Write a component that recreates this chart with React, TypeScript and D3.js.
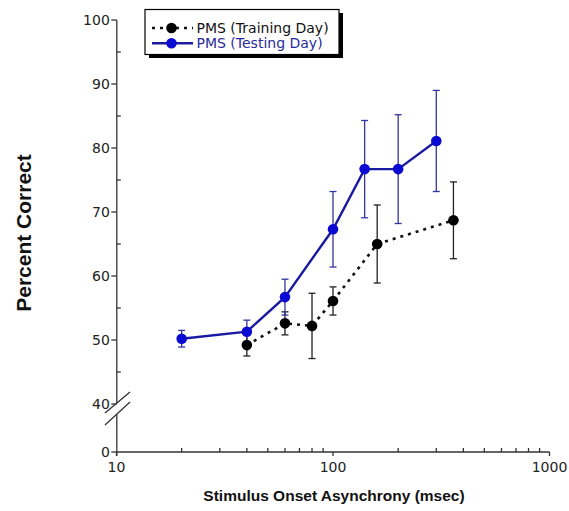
import React from "react";
import * as d3 from "d3";

const soaTesting = [20, 40, 60, 100, 140, 200, 300];
const pctTesting = [50.2, 51.3, 56.7, 67.3, 76.7, 76.7, 81.1];
const errTesting = [1.3, 1.8, 2.8, 5.9, 7.6, 8.5, 7.9];

const soaTraining = [40, 60, 80, 100, 160, 360];
const pctTraining = [49.2, 52.6, 52.2, 56.1, 65.0, 68.7];
const errTraining = [1.7, 1.8, 5.1, 2.2, 6.1, 6.0];

const xMajorTicks = [10, 100, 1000];
const xMinorTicks = [20, 30, 40, 50, 60, 70, 80, 90, 200, 300, 400, 500, 600, 700, 800, 900];
const yMajorTicks = [0, 40, 50, 60, 70, 80, 90, 100];
const yMinorTicks = [45, 55, 65, 75, 85, 95];

const legendLabels = ["PMS (Training Day)", "PMS (Testing Day)"];

const W = 569;
const H = 511;

const BLUE_LINE = "#1a1aa0";
const BLUE_DOT = "#0a0ad2";
const BLUE_ERR = "#3434a0";

export default function App() {
  const x = d3.scaleLog().domain([10, 1000]).range([116.5, 549.5]);
  const y = d3.scaleLinear().domain([0, 40, 100]).range([452, 404, 20]);
  const axisX = 116.8;
  const axisY = 452;
  const tickFont = "'DejaVu Sans', sans-serif";

  const trainPts = soaTraining.map((s, i) => [x(s), y(pctTraining[i])] as [number, number]);
  const testPts = soaTesting.map((s, i) => [x(s), y(pctTesting[i])] as [number, number]);
  const line = d3.line();

  const errBars = (soa: number[], pct: number[], err: number[], color: string, key: string) =>
    soa.map((s, i) => {
      const cx = x(s);
      const yt = y(pct[i] + err[i]);
      const yb = y(pct[i] - err[i]);
      return (
        <g key={key + i} stroke={color} strokeWidth={1.3}>
          <line x1={cx} x2={cx} y1={yt} y2={yb} />
          <line x1={cx - 3.5} x2={cx + 3.5} y1={yt} y2={yt} />
          <line x1={cx - 3.5} x2={cx + 3.5} y1={yb} y2={yb} />
        </g>
      );
    });

  return (
    <svg
      width={W}
      height={H}
      style={{ position: "absolute", left: 0, top: 0, display: "block", background: "#fff" }}
    >
      {/* Y axis */}
      <g stroke="#333" strokeWidth={1.3}>
        <line x1={axisX} x2={axisX} y1={y(100)} y2={y(40) - 1} />
        <line x1={axisX} x2={axisX} y1={y(40) + 10} y2={axisY + 4} />
        <line x1={105} y1={413} x2={130} y2={392} />
        <line x1={105} y1={425} x2={130} y2={402} />
        {yMajorTicks.map((t) => (
          <line key={"ymj" + t} x1={axisX - 5.5} x2={axisX} y1={y(t)} y2={y(t)} />
        ))}
        {yMinorTicks.map((t) => (
          <line key={"ymn" + t} x1={axisX} x2={axisX + 4} y1={y(t)} y2={y(t)} />
        ))}
      </g>
      {yMajorTicks.map((t) => (
        <text
          key={"yl" + t}
          x={axisX - 7}
          y={y(t)}
          dy="0.36em"
          textAnchor="end"
          fontFamily={tickFont}
          fontSize={14}
          fill="#222"
        >
          {t}
        </text>
      ))}

      {/* X axis */}
      <g stroke="#333" strokeWidth={1.3}>
        <line x1={axisX} x2={x(1000)} y1={axisY} y2={axisY} />
        {xMajorTicks.map((t) => (
          <line key={"xmj" + t} x1={x(t)} x2={x(t)} y1={axisY} y2={axisY + 4} />
        ))}
        {xMinorTicks.map((t) => (
          <line key={"xmn" + t} x1={x(t)} x2={x(t)} y1={axisY} y2={axisY - 4} />
        ))}
      </g>
      {xMajorTicks.map((t) => (
        <text
          key={"xl" + t}
          x={x(t)}
          y={axisY + 20}
          textAnchor="middle"
          fontFamily={tickFont}
          fontSize={14}
          fill="#222"
        >
          {t}
        </text>
      ))}

      {/* Axis titles */}
      <text
        x={334}
        y={501}
        textAnchor="middle"
        fontFamily="'Liberation Sans', Arial, sans-serif"
        fontWeight="bold"
        fontSize={15.5}
        fill="#111"
      >
        Stimulus Onset Asynchrony (msec)
      </text>
      <text
        transform="translate(31,233) rotate(-90)"
        textAnchor="middle"
        fontFamily="'Liberation Sans', Arial, sans-serif"
        fontWeight="bold"
        fontSize={21}
        fill="#111"
      >
        Percent Correct
      </text>

      {/* Error bars */}
      {errBars(soaTraining, pctTraining, errTraining, "#222", "etr")}
      {errBars(soaTesting, pctTesting, errTesting, BLUE_ERR, "ete")}

      {/* Lines */}
      <path
        d={line(trainPts) || ""}
        fill="none"
        stroke="#111"
        strokeWidth={2.6}
        strokeDasharray="3,5"
      />
      <path d={line(testPts) || ""} fill="none" stroke={BLUE_LINE} strokeWidth={2.4} />

      {/* Markers */}
      {trainPts.map((p, i) => (
        <circle key={"tr" + i} cx={p[0]} cy={p[1]} r={5.3} fill="#000" />
      ))}
      {testPts.map((p, i) => (
        <circle key={"te" + i} cx={p[0]} cy={p[1]} r={5.3} fill={BLUE_DOT} />
      ))}

      {/* Legend */}
      <g>
        <rect x={149} y={13} width={194} height={45} fill="#000" />
        <rect x={145} y={9.5} width={194} height={45} fill="#fff" stroke="#000" strokeWidth={1.2} />
        <line x1={152} x2={193} y1={28} y2={28} stroke="#111" strokeWidth={2.6} strokeDasharray="3,5" />
        <circle cx={171.5} cy={28} r={5.3} fill="#000" />
        <text x={196.5} y={28} dy="0.36em" fontFamily={tickFont} fontSize={14} fill="#111">
          {legendLabels[0]}
        </text>
        <line x1={152} x2={193} y1={43.3} y2={43.3} stroke={BLUE_LINE} strokeWidth={2.4} />
        <circle cx={171.5} cy={43.3} r={5.3} fill={BLUE_DOT} />
        <text x={196.5} y={43.3} dy="0.36em" fontFamily={tickFont} fontSize={14} fill="#2a2aa0">
          {legendLabels[1]}
        </text>
      </g>
    </svg>
  );
}
